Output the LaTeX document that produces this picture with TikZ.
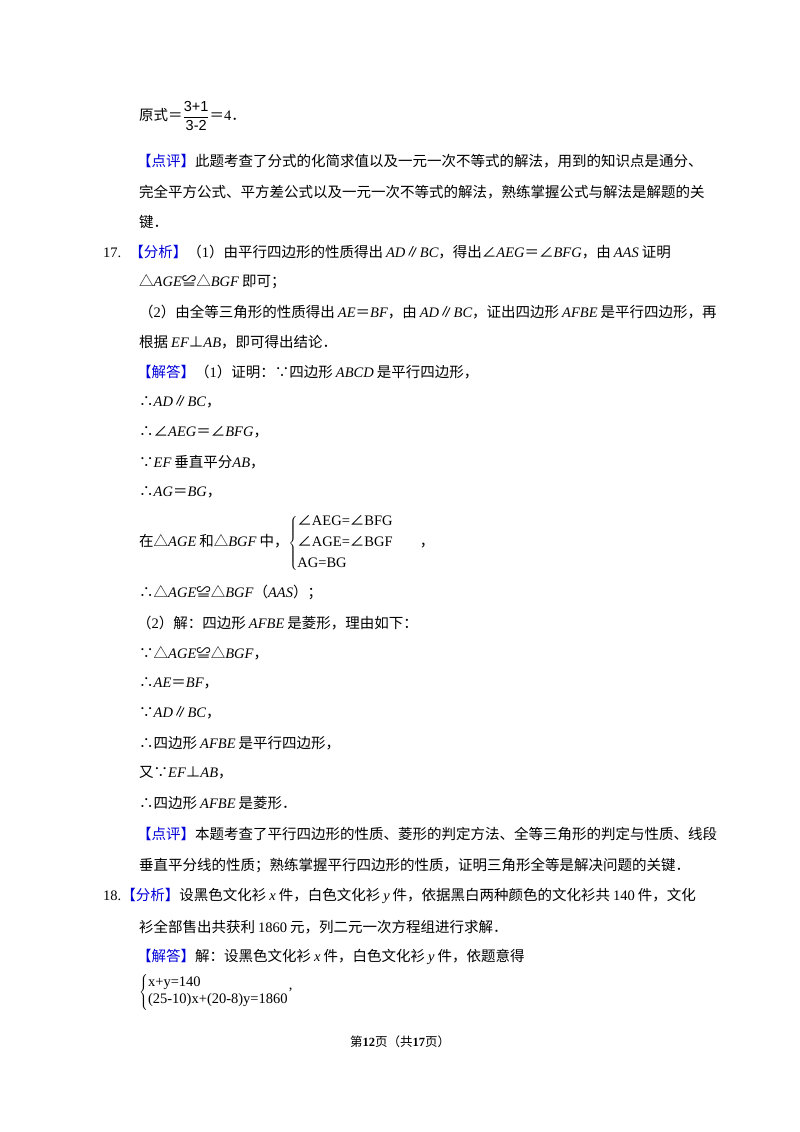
\documentclass[tikz,border=0pt]{standalone}
\usepackage{fontspec}
\setmainfont{Liberation Serif}
\newfontfamily\cjk{Noto Sans CJK SC}
\newfontfamily\ars{Liberation Sans}
\newcommand{\m}[1]{{\rmfamily\itshape #1}}
\newcommand{\mm}[1]{\hspace{3pt}{\rmfamily\itshape #1}\hspace{3pt}}
\newcommand{\mr}[1]{{\rmfamily\itshape #1}\hspace{3pt}}
\newcommand{\ml}[1]{\hspace{3pt}{\rmfamily\itshape #1}}
\newcommand{\n}[1]{{\rmfamily #1}}
\newcommand{\nn}[1]{\hspace{3pt}{\rmfamily #1}\hspace{3pt}}
\newcommand{\bl}[1]{\textcolor{blue!85!black}{#1}}
\begin{document}
\begin{tikzpicture}[x=1pt,y=-1pt,
  ln/.style={anchor=west,inner sep=0pt,font=\cjk\fontsize{14.5}{17}\selectfont}]
\useasboundingbox[fill=white] (0,0) rectangle (800,1132);
\node[ln] (l1) at (139,116) {原式＝$\displaystyle\frac{\hbox{\ars 3+1}}{\hbox{\ars 3-2}}$＝\n{4}．};
\node[ln] (l2) at (137,161) {\bl{【点评】}此题考查了分式的化简求值以及一元一次不等式的解法，用到的知识点是通分、};
\node[ln] (l3) at (139,192) {完全平方公式、平方差公式以及一元一次不等式的解法，熟练掌握公式与解法是解题的关};
\node[ln] (l4) at (139,222) {键．};
\node[ln] (l5) at (103,252) {\n{17.}\hspace{8pt}\bl{【分析】}（\n{1}）由平行四边形的性质得出\ml{AD}∥\m{BC}，得出∠\m{AEG}＝∠\m{BFG}，由\mm{AAS}证明};
\node[ln] (l6) at (139,282) {△\m{AGE}≌△\mr{BGF}即可；};
\node[ln] (l7) at (139,312) {（\n{2}）由全等三角形的性质得出\ml{AE}＝\m{BF}，由\ml{AD}∥\m{BC}，证出四边形\mm{AFBE}是平行四边形，再};
\node[ln] (l8) at (139,342) {根据\ml{EF}⊥\m{AB}，即可得出结论．};
\node[ln] (l9) at (137,372) {\bl{【解答】}（\n{1}）证明：∵四边形\mm{ABCD}是平行四边形，};
\node[ln] (l10) at (139,402) {∴\m{AD}∥\m{BC}，};
\node[ln] (l11) at (139,432) {∴∠\m{AEG}＝∠\m{BFG}，};
\node[ln] (l12) at (139,462) {∵\mr{EF}垂直平分\m{AB}，};
\node[ln] (l13) at (139,492) {∴\m{AG}＝\m{BG}，};
\node[ln] (l14) at (139,543) {在△\mr{AGE}和△\mr{BGF}中，$\left\{\vcenter{\hbox{\begin{tabular}{@{}l@{}}\cjk ∠\n{AEG=}∠\n{BFG}\\[4pt] \cjk ∠\n{AGE=}∠\n{BGF}\\[4pt] \n{AG=BG}\end{tabular}}}\right.$\hspace{26pt}，};
\node[ln] (l15) at (139,592) {∴△\m{AGE}≌△\m{BGF}（\m{AAS}）；};
\node[ln] (l16) at (137,623) {（\n{2}）解：四边形\mm{AFBE}是菱形，理由如下：};
\node[ln] (l17) at (139,653) {∵△\m{AGE}≌△\m{BGF}，};
\node[ln] (l18) at (139,683) {∴\m{AE}＝\m{BF}，};
\node[ln] (l19) at (139,713) {∵\m{AD}∥\m{BC}，};
\node[ln] (l20) at (139,743) {∴四边形\mm{AFBE}是平行四边形，};
\node[ln] (l21) at (139,773) {又∵\m{EF}⊥\m{AB}，};
\node[ln] (l22) at (139,803) {∴四边形\mm{AFBE}是菱形．};
\node[ln] (l23) at (137,834) {\bl{【点评】}本题考查了平行四边形的性质、菱形的判定方法、全等三角形的判定与性质、线段};
\node[ln] (l24) at (139,865) {垂直平分线的性质；熟练掌握平行四边形的性质，证明三角形全等是解决问题的关键．};
\node[ln] (l25) at (103,896) {\n{18.}\bl{【分析】}设黑色文化衫\mm{x}件，白色文化衫\mm{y}件，依据黑白两种颜色的文化衫共\nn{140}件，文化};
\node[ln] (l26) at (139,927) {衫全部售出共获利\nn{1860}元，列二元一次方程组进行求解．};
\node[ln] (l27) at (137,957) {\bl{【解答】}解：设黑色文化衫\mm{x}件，白色文化衫\mm{y}件，依题意得};
\node[ln] (l28) at (139,992) {$\left\{\vcenter{\hbox{\begin{tabular}{@{}l@{}}\n{x+y=140}\\[0pt] \n{(25-10)x+(20-8)y=1860}\end{tabular}}}\right.$\raisebox{6pt}{\n{,}}};
\node[anchor=center,inner sep=0pt,font=\cjk\fontsize{12.5}{14}\selectfont] (ft) at (400,1042) {第\textbf{\n{12}}页（共\textbf{\n{17}}页）};
\end{tikzpicture}
\end{document}
